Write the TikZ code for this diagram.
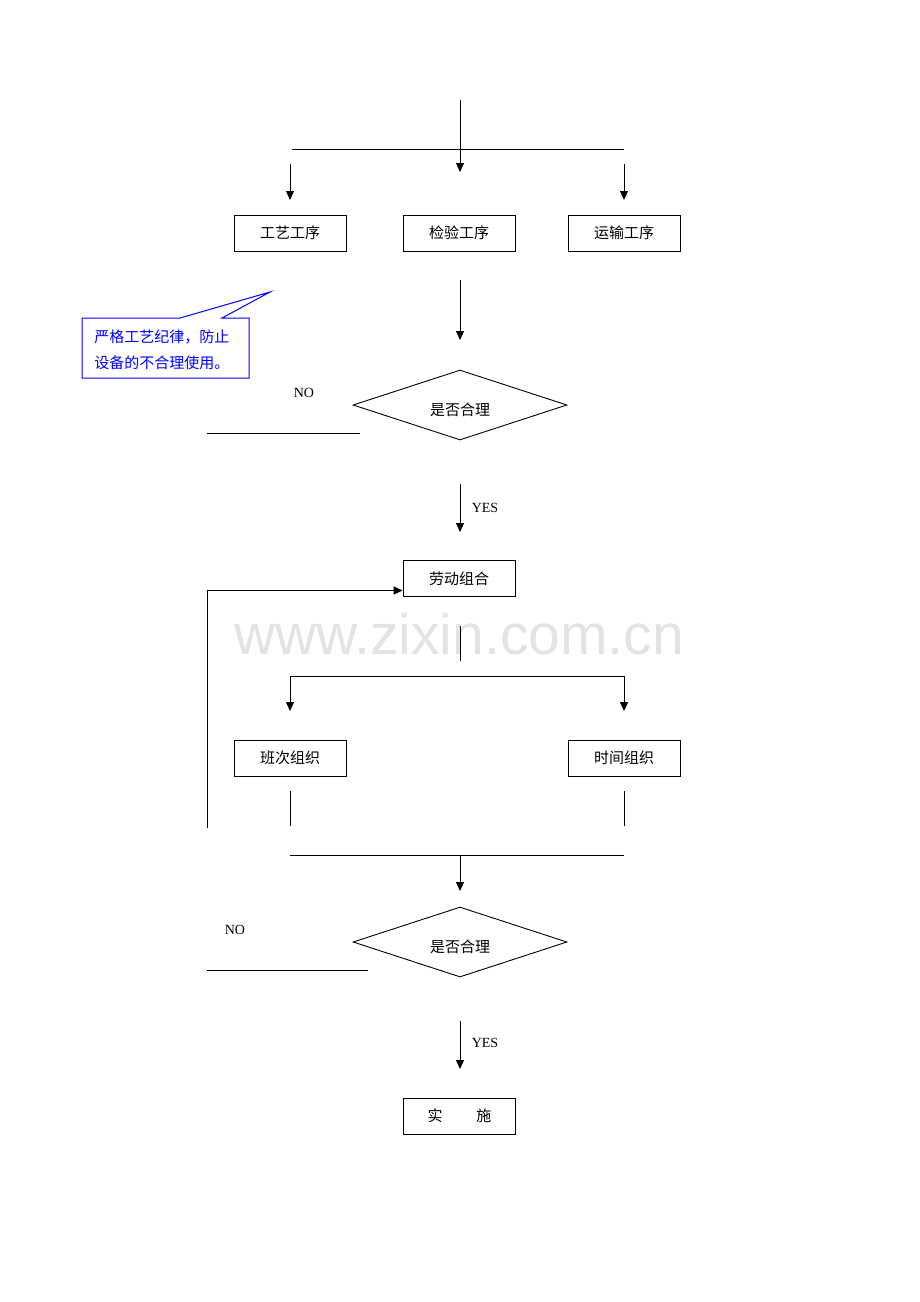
\documentclass[tikz,border=0pt]{standalone}
\usepackage{fontspec}
\setmainfont{Liberation Serif}
\newfontfamily\cjk{Noto Sans CJK SC}
\newfontfamily\wmfont{Liberation Sans}
\usetikzlibrary{arrows.meta,shapes.geometric,calc}
\begin{document}
\begin{tikzpicture}[x=1pt,y=-1pt,line width=0.9pt,
  box/.style={draw,rectangle,minimum width=112pt,minimum height=36pt,inner sep=0pt,font=\cjk\fontsize{15}{18}\selectfont},
  dia/.style={draw,diamond,shape aspect=3,minimum width=214pt,minimum height=70pt,inner sep=0pt},
  diatext/.style={inner sep=0pt,font=\cjk\fontsize{15}{18}\selectfont},
  arr/.style={-{Triangle[width=8pt,length=9pt]}},
  lbl/.style={font=\fontsize{14}{17}\selectfont,inner sep=0pt},
  note/.style={draw=blue,line width=1pt}]
\useasboundingbox (0,0) rectangle (920,1302);
% watermark
\node[text=black!11,font=\wmfont\fontsize{57}{60}\selectfont,inner sep=0pt] (wm) at (459,634) {www.zixin.com.cn};

% top part
\coordinate (t0) at (460,100); \coordinate (t1) at (460,172);
\draw[arr] (t0) -- (t1);
\coordinate (h1l) at (292,149); \coordinate (h1r) at (624,149);
\draw (h1l) -- (h1r);
\coordinate (a1s) at (290,164); \coordinate (a1e) at (290,200);
\coordinate (a3s) at (624,164); \coordinate (a3e) at (624,200);
\draw[arr] (a1s) -- (a1e);
\draw[arr] (a3s) -- (a3e);

\node[box] (gy) at (290,233) {工艺工序};
\node[box] (jy) at (459,233) {检验工序};
\node[box] (ys) at (624,233) {运输工序};

\coordinate (a4s) at (460,280); \coordinate (a4e) at (460,340);
\draw[arr] (a4s) -- (a4e);

% callout
\draw[note] (82,318) -- (180,318) -- (270,292) -- (222,318) -- (249,318) -- (249,378) -- (82,378) -- cycle;
\node[anchor=west,align=left,text=blue,inner sep=0pt,font=\cjk\fontsize{15}{26}\selectfont] (nt) at (94,350) {严格工艺纪律，防止\\设备的不合理使用。};

% diamond 1
\node[dia] (d1) at (460,405) {};
\node[diatext] (d1t) at (460,410) {是否合理};
\node[lbl] (no1) at (304,393) {NO};
\coordinate (n1a) at (207,433); \coordinate (n1b) at (360,433);
\draw (n1a) -- (n1b);

\coordinate (y1s) at (460,484); \coordinate (y1e) at (460,532);
\draw[arr] (y1s) -- (y1e);
\node[lbl] (yes1) at (485,508) {YES};

\node[box] (ld) at (459,578.5) {劳动组合};

% feedback
\coordinate (fb0) at (207,828);
\draw[arr] (fb0) |- ($(ld.west)+(0,12)$);

\coordinate (m0) at (460,626); \coordinate (m1) at (460,661);
\draw (m0) -- (m1);
\coordinate (b0) at (290,676); \coordinate (b3) at (624,676);
\coordinate (b1) at (290,711); \coordinate (b2) at (624,711);
\draw (b0) -- (b3);
\draw[arr] (b0) -- (b1);
\draw[arr] (b3) -- (b2);

\node[box] (bc) at (290,758) {班次组织};
\node[box] (sj) at (624,758) {时间组织};

\coordinate (l1s) at (290,791); \coordinate (l1e) at (290,826);
\coordinate (l2s) at (624,791); \coordinate (l2e) at (624,826);
\draw (l1s) -- (l1e);
\draw (l2s) -- (l2e);
\coordinate (h2l) at (290,855); \coordinate (h2r) at (624,855);
\draw (h2l) -- (h2r);
\coordinate (a5s) at (460,855); \coordinate (a5e) at (460,891);
\draw[arr] (a5s) -- (a5e);

% diamond 2
\node[dia] (d2) at (460,942) {};
\node[diatext] (d2t) at (460,947) {是否合理};
\node[lbl] (no2) at (235,930) {NO};
\coordinate (n2a) at (207,970); \coordinate (n2b) at (368,970);
\draw (n2a) -- (n2b);

\coordinate (y2s) at (460,1021); \coordinate (y2e) at (460,1069);
\draw[arr] (y2s) -- (y2e);
\node[lbl] (yes2) at (485,1043) {YES};

\node[box] (ss) at (459.5,1116) {实\hspace{34pt}施};
\end{tikzpicture}
\end{document}
